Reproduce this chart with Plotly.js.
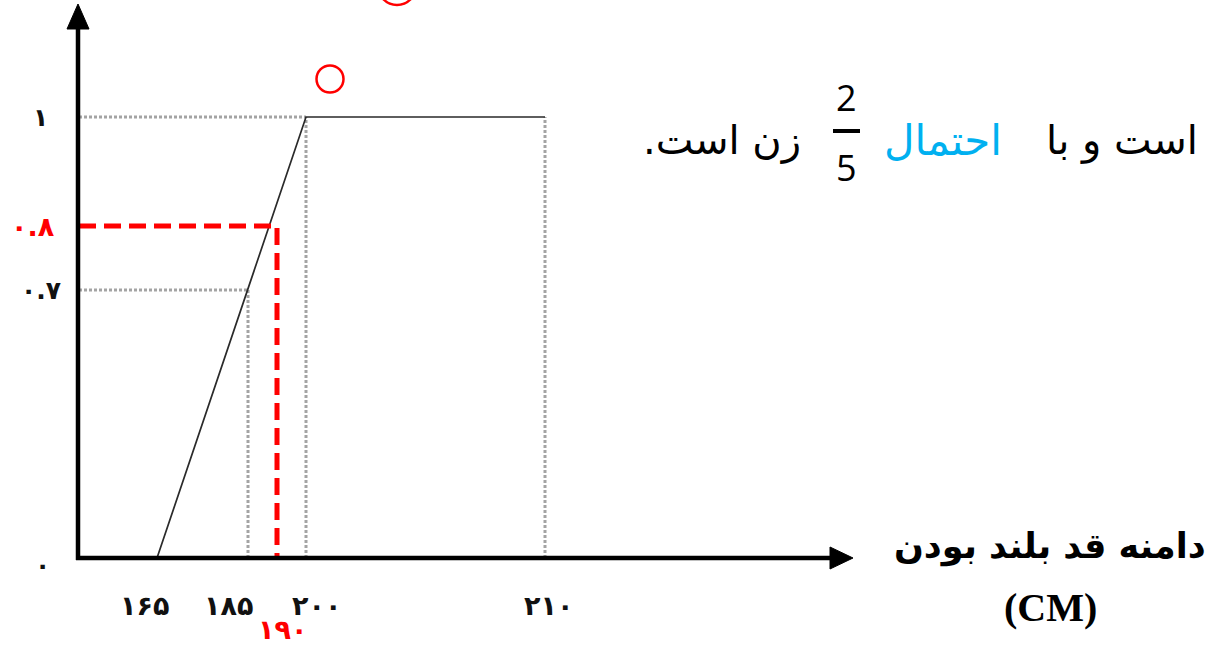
<!DOCTYPE html>
<html>
<head>
<meta charset="utf-8">
<script src="https://cdn.plot.ly/plotly-3.0.1.min.js"></script>
<style>
  html, body { margin: 0; padding: 0; background: #ffffff; }
  #chart { width: 1216px; height: 646px; }
</style>
</head>
<body>
<div id="chart"></div>
<script>
// Membership function of "tall" (height in cm -> degree of membership)
const heights = [165, 200, 210];
const membership = [0, 1, 1];

// Labelled heights on the horizontal axis
const tickHeights = [165, 185, 200, 210];
const tickHeightLabels = ['۱۶۵', '۱۸۵', '۲۰۰', '۲۱۰'];

// Labelled degrees on the vertical axis
const tickDegrees = [0, 0.7, 1];
const tickDegreeLabels = ['۰', '۰.۷', '۱'];

// Reference point (gray guides)
const guideHeight = 185;
const guideDegree = 0.7;

// Queried point (red dashed guides)
const queryHeight = 190;
const queryDegree = 0.8;
const queryHeightLabel = '۱۹۰';
const queryDegreeLabel = '۰.۸';

// The axes are drawn schematically, not to scale: each labelled value
// has its own slot along the axis, with linear steps between slots.
const xScale = { values: [165, 185, 190, 200, 210], slots: [79, 170, 199, 228, 467] };
const yScale = { values: [0, 0.7, 0.8, 1], slots: [0, 268, 332, 441] };

function piecewise(scale, v) {
  const vs = scale.values, ss = scale.slots;
  if (v <= vs[0]) return ss[0] + (v - vs[0]) * (ss[1] - ss[0]) / (vs[1] - vs[0]);
  for (let i = 0; i < vs.length - 1; i++) {
    if (v <= vs[i + 1]) {
      return ss[i] + (v - vs[i]) * (ss[i + 1] - ss[i]) / (vs[i + 1] - vs[i]);
    }
  }
  const n = vs.length - 1;
  return ss[n] + (v - vs[n]) * (ss[n] - ss[n - 1]) / (vs[n] - vs[n - 1]);
}
const sx = v => piecewise(xScale, v);
const sy = v => piecewise(yScale, v);

const AX = 1;  // guides start just right of the vertical axis

// Gray dotted guides: horizontal at the reference degrees, vertical at the breakpoints
const guideX = [
  AX, sx(heights[1]), null,
  AX, sx(guideHeight), null,
  sx(guideHeight), sx(guideHeight), null,
  sx(heights[1]), sx(heights[1]), null,
  sx(heights[2]), sx(heights[2])
];
const guideY = [
  sy(membership[1]), sy(membership[1]), null,
  sy(guideDegree), sy(guideDegree), null,
  sy(0), sy(guideDegree), null,
  sy(0), sy(membership[1]), null,
  sy(0), sy(membership[2])
];

const traces = [
  {
    type: 'scatter', mode: 'lines', x: guideX, y: guideY,
    line: { color: '#a4a4a4', width: 3, dash: '3px,2px' },
    hoverinfo: 'skip', connectgaps: false
  },
  {
    type: 'scatter', mode: 'lines',
    x: heights.map(sx), y: membership.map(sy),
    line: { color: '#2a2a2a', width: 1.7 },
    hoverinfo: 'skip'
  },
  {
    type: 'scatter', mode: 'lines',
    x: [AX, sx(queryHeight), sx(queryHeight)],
    y: [sy(queryDegree), sy(queryDegree), sy(0)],
    line: { color: '#ff0000', width: 5, dash: '17px,8px' },
    hoverinfo: 'skip'
  },
  {
    // small red marker circle above the plateau
    type: 'scatter', mode: 'markers',
    x: [252], y: [479],
    marker: { symbol: 'circle-open', size: 27, color: '#ff0000', line: { width: 2.5, color: '#ff0000' } },
    hoverinfo: 'skip'
  }
];

const xDigitFont = { family: 'DejaVu Sans', size: 27, color: '#111111', weight: 'bold' };
const yDigitFont = { family: 'DejaVu Sans', size: 25, color: '#111111', weight: 'bold' };
const redDigitFont = { family: 'DejaVu Sans', size: 27, color: '#ff0000', weight: 'bold' };
const textFont = { family: 'DejaVu Sans', size: 40, color: '#000000' };

const xLabelShift = [-13, -20, 10, 3];
const annotations = [];

tickHeights.forEach((h, i) => {
  annotations.push({
    x: sx(h), y: -47, xref: 'x', yref: 'y', text: tickHeightLabels[i],
    showarrow: false, xanchor: 'center', yanchor: 'middle', xshift: xLabelShift[i],
    font: xDigitFont
  });
});
annotations.push({
  x: sx(queryHeight), y: -71, xref: 'x', yref: 'y', text: queryHeightLabel,
  showarrow: false, xanchor: 'center', yanchor: 'middle', xshift: 5,
  font: redDigitFont
});

const yLabelX = [-36, -37, -38];
const yLabelShift = [-7, 0, 0];
tickDegrees.forEach((d, i) => {
  annotations.push({
    x: yLabelX[i], y: sy(d), xref: 'x', yref: 'y', text: tickDegreeLabels[i],
    showarrow: false, xanchor: 'center', yanchor: 'middle', yshift: yLabelShift[i],
    font: yDigitFont
  });
});
annotations.push({
  x: -45, y: sy(queryDegree), xref: 'x', yref: 'y', text: queryDegreeLabel,
  showarrow: false, xanchor: 'center', yanchor: 'middle',
  font: redDigitFont
});

// Axis caption
annotations.push({
  x: 972, y: 12, xref: 'x', yref: 'y', text: 'دامنه قد بلند بودن',
  showarrow: false, xanchor: 'center', yanchor: 'middle',
  font: { family: 'DejaVu Sans', size: 35, color: '#000000', weight: 'bold' }
});
annotations.push({
  x: 972, y: -49, xref: 'x', yref: 'y', text: '(CM)',
  showarrow: false, xanchor: 'center', yanchor: 'middle',
  font: { family: 'Liberation Serif', size: 40, color: '#000000', weight: 'bold' }
});

// Sentence on the right: "است و با احتمال 2/5 زن است."
annotations.push({
  x: 1122, y: 418, xref: 'x', yref: 'y', text: 'است و با',
  showarrow: false, xanchor: 'right', yanchor: 'middle', font: textFont
});
annotations.push({
  x: 865, y: 418, xref: 'x', yref: 'y', text: 'احتمال',
  showarrow: false, xanchor: 'center', yanchor: 'middle',
  font: { family: 'DejaVu Sans', size: 42, color: '#00b0f0' }
});
annotations.push({
  x: 644, y: 418, xref: 'x', yref: 'y', text: 'زن است.\u200F',
  showarrow: false, xanchor: 'center', yanchor: 'middle', font: textFont
});
annotations.push({
  x: 768, y: 461, xref: 'x', yref: 'y', text: '2',
  showarrow: false, xanchor: 'center', yanchor: 'middle',
  font: { family: 'Open Sans', size: 36, color: '#000000' }
});
annotations.push({
  x: 768, y: 391, xref: 'x', yref: 'y', text: '5',
  showarrow: false, xanchor: 'center', yanchor: 'middle',
  font: { family: 'Open Sans', size: 36, color: '#000000' }
});

const shapes = [
  // vertical axis with arrowhead
  { type: 'line', xref: 'x', yref: 'y', x0: 0, y0: -2, x1: 0, y1: 532,
    line: { color: '#000000', width: 4.5 } },
  { type: 'path', xref: 'x', yref: 'y', path: 'M -11 529 L 11 529 L 0 554 Z',
    fillcolor: '#000000', line: { color: '#000000', width: 1 } },
  // horizontal axis with arrowhead
  { type: 'line', xref: 'x', yref: 'y', x0: -2, y0: 0, x1: 754, y1: 0,
    line: { color: '#000000', width: 4.5 } },
  { type: 'path', xref: 'x', yref: 'y', path: 'M 752 11 L 752 -11 L 775 0 Z',
    fillcolor: '#000000', line: { color: '#000000', width: 1 } },
  // fraction bar
  { type: 'line', xref: 'x', yref: 'y', x0: 755, y0: 427, x1: 782, y1: 427,
    line: { color: '#000000', width: 4 } },
  // red circle running off the top edge
  { type: 'circle', xref: 'x', yref: 'y', x0: 300, y0: 553, x1: 338, y1: 591,
    line: { color: '#ff0000', width: 2.5 } }
];

const layout = {
  width: 1216, height: 646,
  margin: { l: 0, r: 0, t: 0, b: 0, pad: 0 },
  paper_bgcolor: '#ffffff', plot_bgcolor: '#ffffff',
  showlegend: false,
  xaxis: { range: [-78, 1138], visible: false, fixedrange: true },
  yaxis: { range: [-88, 558], visible: false, fixedrange: true },
  shapes: shapes,
  annotations: annotations
};

Plotly.newPlot('chart', traces, layout, { displayModeBar: false, staticPlot: true });
</script>
</body>
</html>
